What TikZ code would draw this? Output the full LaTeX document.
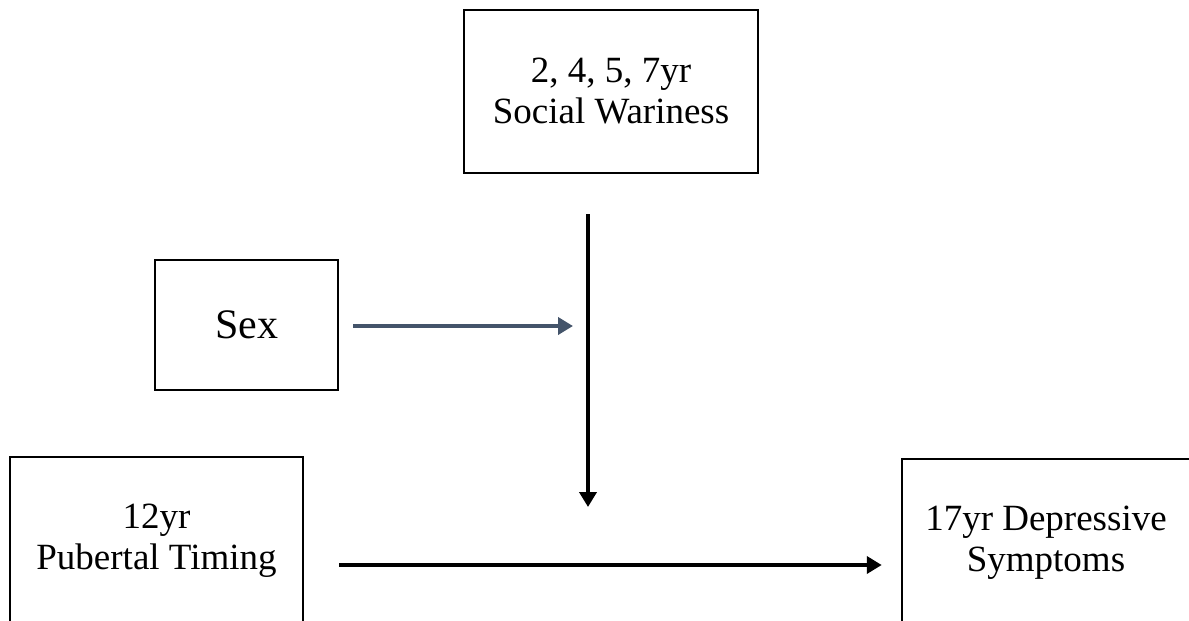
\documentclass[tikz,border=0pt]{standalone}
\usepackage{fontspec}
\setmainfont{Liberation Serif}
\usetikzlibrary{arrows.meta,positioning,calc}
\definecolor{slate}{HTML}{44546A}

\begin{document}
\begin{tikzpicture}[x=1pt,y=-1pt,
  box/.style={draw,line width=2.5pt,align=center,inner sep=0pt,
    font=\fontsize{37}{41}\selectfont},
  arr/.style={-{Triangle[length=15pt,width=17pt]},line width=4pt},
  sexarr/.style={arr,line width=4.5pt,draw=slate,fill=slate}
]
\useasboundingbox (0,0) rectangle (1189,621);
\node[box,minimum width=294pt,minimum height=163pt] (wary) at (611,91.5) {2, 4, 5, 7yr\\Social Wariness};
\node[box,minimum width=183pt,minimum height=130pt,font=\fontsize{42}{48}\selectfont] (sex) at (246.5,325) {Sex};
\node[box,minimum width=293pt,minimum height=168pt] (puberty) at (156.5,541) {12yr\\Pubertal Timing};
\node[box,minimum width=288pt,minimum height=168pt] (depress) at (1046,543) {17yr Depressive\\Symptoms};
\coordinate (modpt) at (588,507);
\coordinate (sexpt) at (573,326);
\draw[arr,shorten <=40pt] ([xshift=-23pt]wary.south) -- (modpt);
\draw[sexarr,shorten <=14pt] ([yshift=-1pt]sex.east) -- (sexpt);
\draw[arr,shorten <=35pt,shorten >=19pt] ([yshift=-24pt]puberty.east) -- ([yshift=-22pt]depress.west);
\end{tikzpicture}
\end{document}
